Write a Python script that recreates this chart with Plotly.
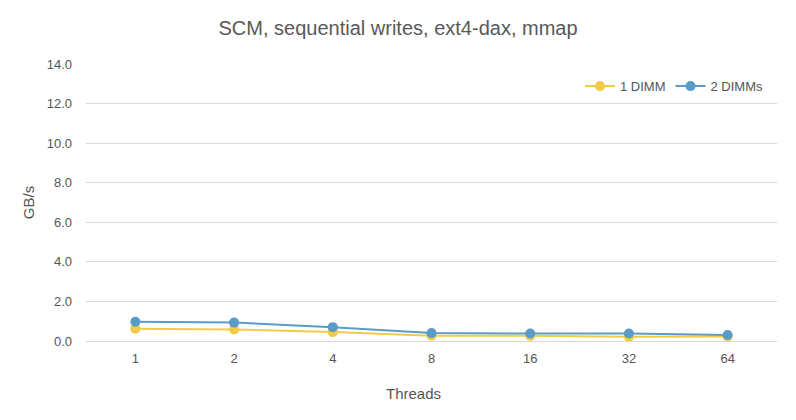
import plotly.graph_objects as go

threads = ['1', '2', '4', '8', '16', '32', '64']
one_dimm = [0.62, 0.58, 0.45, 0.27, 0.26, 0.21, 0.23]
two_dimms = [0.97, 0.93, 0.70, 0.40, 0.38, 0.38, 0.30]

yellow = '#F0CB45'
blue = '#5B9BC9'
grey = '#555555'

fig = go.Figure()
fig.add_trace(go.Scatter(x=threads, y=one_dimm, name='1 DIMM', mode='lines+markers',
                         line=dict(color=yellow, width=2), marker=dict(color=yellow, size=10)))
fig.add_trace(go.Scatter(x=threads, y=two_dimms, name='2 DIMMs', mode='lines+markers',
                         line=dict(color=blue, width=2), marker=dict(color=blue, size=10)))

# page body adds an 8px margin, so the figure is a bit smaller than the window
fig.update_layout(
    width=788, height=412,
    paper_bgcolor='white', plot_bgcolor='white',
    font=dict(family='Liberation Sans, Arial, sans-serif', color=grey, size=13),
    title=dict(text='SCM, sequential writes, ext4-dax, mmap', x=0.495, xanchor='center',
               y=0.951, yanchor='middle', font=dict(size=20, color='#595959')),
    margin=dict(l=78, r=19, t=56, b=79),
    showlegend=True,
    legend=dict(orientation='h', x=0.987, xanchor='right', y=0.92, yanchor='middle',
                font=dict(size=13, color=grey), bgcolor='rgba(0,0,0,0)'),
    xaxis=dict(type='category', range=[-0.5, len(threads) - 0.5], showgrid=False,
               showline=True, linecolor='#d9d9d9',
               ticks='', tickfont=dict(size=13, color=grey), ticklabelstandoff=5),
    yaxis=dict(range=[0, 14], dtick=2, tickformat='.1f', showgrid=True, gridcolor='#d9d9d9',
               zeroline=True, zerolinecolor='#d9d9d9', ticks='', showline=False,
               tickfont=dict(size=13, color=grey), ticklabelstandoff=13,
               title=dict(text='GB/s', font=dict(size=15, color=grey), standoff=8)),
)
fig.add_annotation(text='Threads', xref='paper', yref='paper',
                   x=(405 - 78) / 691, y=-52 / 276, xanchor='center', yanchor='middle',
                   showarrow=False, font=dict(size=15, color=grey))

fig.write_html("out.html")
